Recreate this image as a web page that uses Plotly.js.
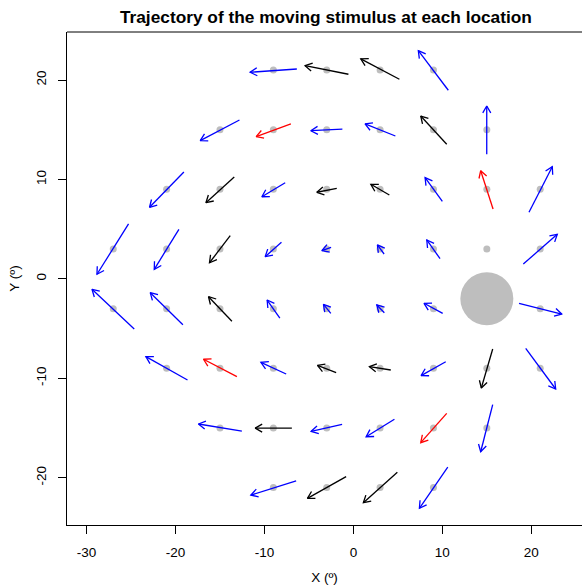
<!DOCTYPE html>
<html>
<head>
<meta charset="utf-8">
<script src="https://cdn.plot.ly/plotly-3.0.1.min.js"></script>
<style>html,body{margin:0;padding:0;overflow:hidden;background:#fff;}</style>
</head>
<body>
<div id="chart"></div>
<script>
// Stimulus locations (deg)
const locX = [-9,-3,3,9, -15,-9,-3,3,9,15, -21,-15,-9,-3,3,9,15,21,
              -27,-21,-15,-9,-3,3,9,15,21, -27,-21,-15,-9,-3,3,9,21,
              -21,-15,-9,-3,3,9,15,21, -15,-9,-3,3,9,15, -9,-3,3,9];
const locY = [21,21,21,21, 15,15,15,15,15,15, 9,9,9,9,9,9,9,9,
              3,3,3,3,3,3,3,3,3, -3,-3,-3,-3,-3,-3,-3,-3,
              -9,-9,-9,-9,-9,-9,-9,-9, -15,-15,-15,-15,-15,-15, -21,-21,-21,-21];

// Trajectory start (tail) and end (head) of each moving stimulus (deg)
const startX = [-6.36,-0.56,5.17,10.67, -12.81,-7.03,-1.24,4.72,10.49,14.99,
                -19.06,-13.40,-7.67,-1.87,4.04,10.00,15.70,19.74,
                -25.28,-19.62,-13.85,-8.09,-2.51,3.45,9.74,19.10,
                -24.64,-19.17,-13.66,-8.27,-2.54,3.48,10.04,18.62,
                -18.65,-13.10,-7.56,-1.94,4.20,10.38,15.66,19.37,
                -12.54,-6.92,-1.27,4.61,10.49,15.66,
                -6.44,-0.82,4.94,10.61];
const startY = [21.11,20.58,20.08,18.97, 15.98,15.58,15.07,14.37,13.54,12.53,
                10.75,10.25,9.67,9.11,8.44,7.80,7.03,6.70,
                5.52,4.98,4.34,3.68,3.17,2.50,2.03,1.49,
                -5.05,-4.61,-4.27,-3.94,-3.47,-3.41,-3.47,-2.46,
                -10.18,-9.84,-9.57,-9.44,-9.17,-8.34,-7.06,-6.99,
                -15.31,-15.01,-14.63,-14.13,-13.53,-12.66,
                -20.31,-19.90,-19.46,-18.93];
const endX   = [-11.61,-5.43,0.83,7.30, -17.22,-10.93,-4.79,1.31,7.57,14.99,
                -22.92,-16.58,-10.29,-4.11,1.96,8.06,14.31,22.36,
                -28.83,-22.39,-16.18,-9.92,-3.55,2.70,8.25,22.92,
                -29.39,-22.84,-16.29,-9.70,-3.37,2.63,7.94,23.42,
                -23.33,-16.85,-10.40,-4.04,1.80,7.61,14.38,22.74,
                -17.42,-11.04,-4.75,1.43,7.57,14.31,
                -11.53,-5.17,1.12,7.42];
const endY   = [20.78,21.44,22.12,22.95, 13.90,14.30,14.90,15.58,16.38,17.39,
                7.20,7.66,8.26,8.71,9.51,10.18,10.88,11.28,
                0.46,0.96,1.62,2.23,2.83,3.41,3.91,4.48,
                -1.05,-1.39,-1.80,-2.13,-2.56,-2.63,-2.46,-3.54,
                -7.83,-8.09,-8.40,-8.70,-8.84,-9.74,-10.98,-11.08,
                -14.60,-15.01,-15.34,-15.88,-16.48,-17.39,
                -21.75,-22.08,-22.52,-23.08];
// Arrow class: b = blue, k = black, r = red
const arrowClass = ["b","k","k","b", "b","r","b","b","k","b",
                    "b","k","b","k","k","b","r","b",
                    "b","b","k","b","b","b","b","b",
                    "b","b","k","b","b","b","b","b",
                    "b","r","b","k","k","b","k","b",
                    "b","k","b","b","r","b",
                    "b","k","k","b"];
// Blind spot
const blindX = [15];
const blindY = [-2];

// Axis ticks
const xTickVals = [-30,-20,-10,0,10,20];
const xTickText = ["-30","-20","-10","0","10","20"];
const yTickVals = [-20,-10,0,10,20];
const yTickText = ["-20","-10","0","10","20"];

const W = 582, H = 588;
const M = {l: 67, r: 0, t: 32, b: 63};
const xRange = [-32.2, 25.7];
const yRange = [-24.76, 24.83];
const pxX = (W - M.l - M.r) / (xRange[1] - xRange[0]);
const pxY = (H - M.t - M.b) / (yRange[1] - yRange[0]);

const colorMap = {b: "#0000FF", k: "#000000", r: "#FF0000"};
const headLen = 8, headAng = Math.PI / 6;

function arrowTrace(cls) {
  const xs = [], ys = [];
  for (let i = 0; i < startX.length; i++) {
    if (arrowClass[i] !== cls) continue;
    const x0 = startX[i], y0 = startY[i], x1 = endX[i], y1 = endY[i];
    xs.push(x0, x1, null); ys.push(y0, y1, null);
    const dx = (x1 - x0) * pxX, dy = (y1 - y0) * pxY;
    const a = Math.atan2(dy, dx);
    for (const s of [-1, 1]) {
      const b = a + Math.PI + s * headAng;
      xs.push(x1 + headLen * Math.cos(b) / pxX, x1);
      ys.push(y1 + headLen * Math.sin(b) / pxY, y1);
    }
    xs.push(null); ys.push(null);
  }
  return {x: xs, y: ys, type: "scatter", mode: "lines", hoverinfo: "skip",
          line: {color: colorMap[cls], width: 1.3}, showlegend: false};
}

const traces = [
  {x: blindX, y: blindY, type: "scatter", mode: "markers",
   marker: {color: "#BEBEBE", size: 53}, showlegend: false, hoverinfo: "skip"},
  {x: locX, y: locY, type: "scatter", mode: "markers",
   marker: {color: "#BEBEBE", size: 7}, showlegend: false, hoverinfo: "skip"},
  arrowTrace("b"), arrowTrace("k"), arrowTrace("r")
];

const fontFam = "Liberation Sans, Arial, Helvetica, sans-serif";
const layout = {
  width: W, height: H,
  margin: M,
  paper_bgcolor: "#fff", plot_bgcolor: "#fff",
  showlegend: false,
  font: {family: fontFam, color: "#000", size: 13.5},
  title: {text: "<b>Trajectory of the moving stimulus at each location</b>",
          font: {family: fontFam, size: 17.3, color: "#000"},
          xref: "container", x: 0.56, xanchor: "center",
          yref: "container", y: 0.972, yanchor: "middle"},
  xaxis: {range: xRange, tickvals: xTickVals, ticktext: xTickText,
          showgrid: false, zeroline: false, showline: true, linecolor: "#000", linewidth: 1,
          ticks: "outside", ticklen: 8, tickwidth: 1, tickcolor: "#000",
          tickfont: {size: 13.5}, ticklabelstandoff: 7,
          title: {text: "X (º)", font: {size: 13.5}, standoff: 13}},
  yaxis: {range: yRange, tickvals: yTickVals, ticktext: yTickText,
          showgrid: false, zeroline: false, showline: true, linecolor: "#000", linewidth: 1,
          ticks: "outside", ticklen: 8, tickwidth: 1, tickcolor: "#000",
          tickangle: -90, tickfont: {size: 13.5}, ticklabelstandoff: 7,
          title: {text: "Y (º)", font: {size: 13.5}, standoff: 10}},
  shapes: [{type: "line", xref: "paper", yref: "paper", x0: 0, x1: 1, y0: 1, y1: 1,
            line: {color: "#000", width: 1}}]
};

Plotly.newPlot("chart", traces, layout, {staticPlot: true, displayModeBar: false});
</script>
</body>
</html>
